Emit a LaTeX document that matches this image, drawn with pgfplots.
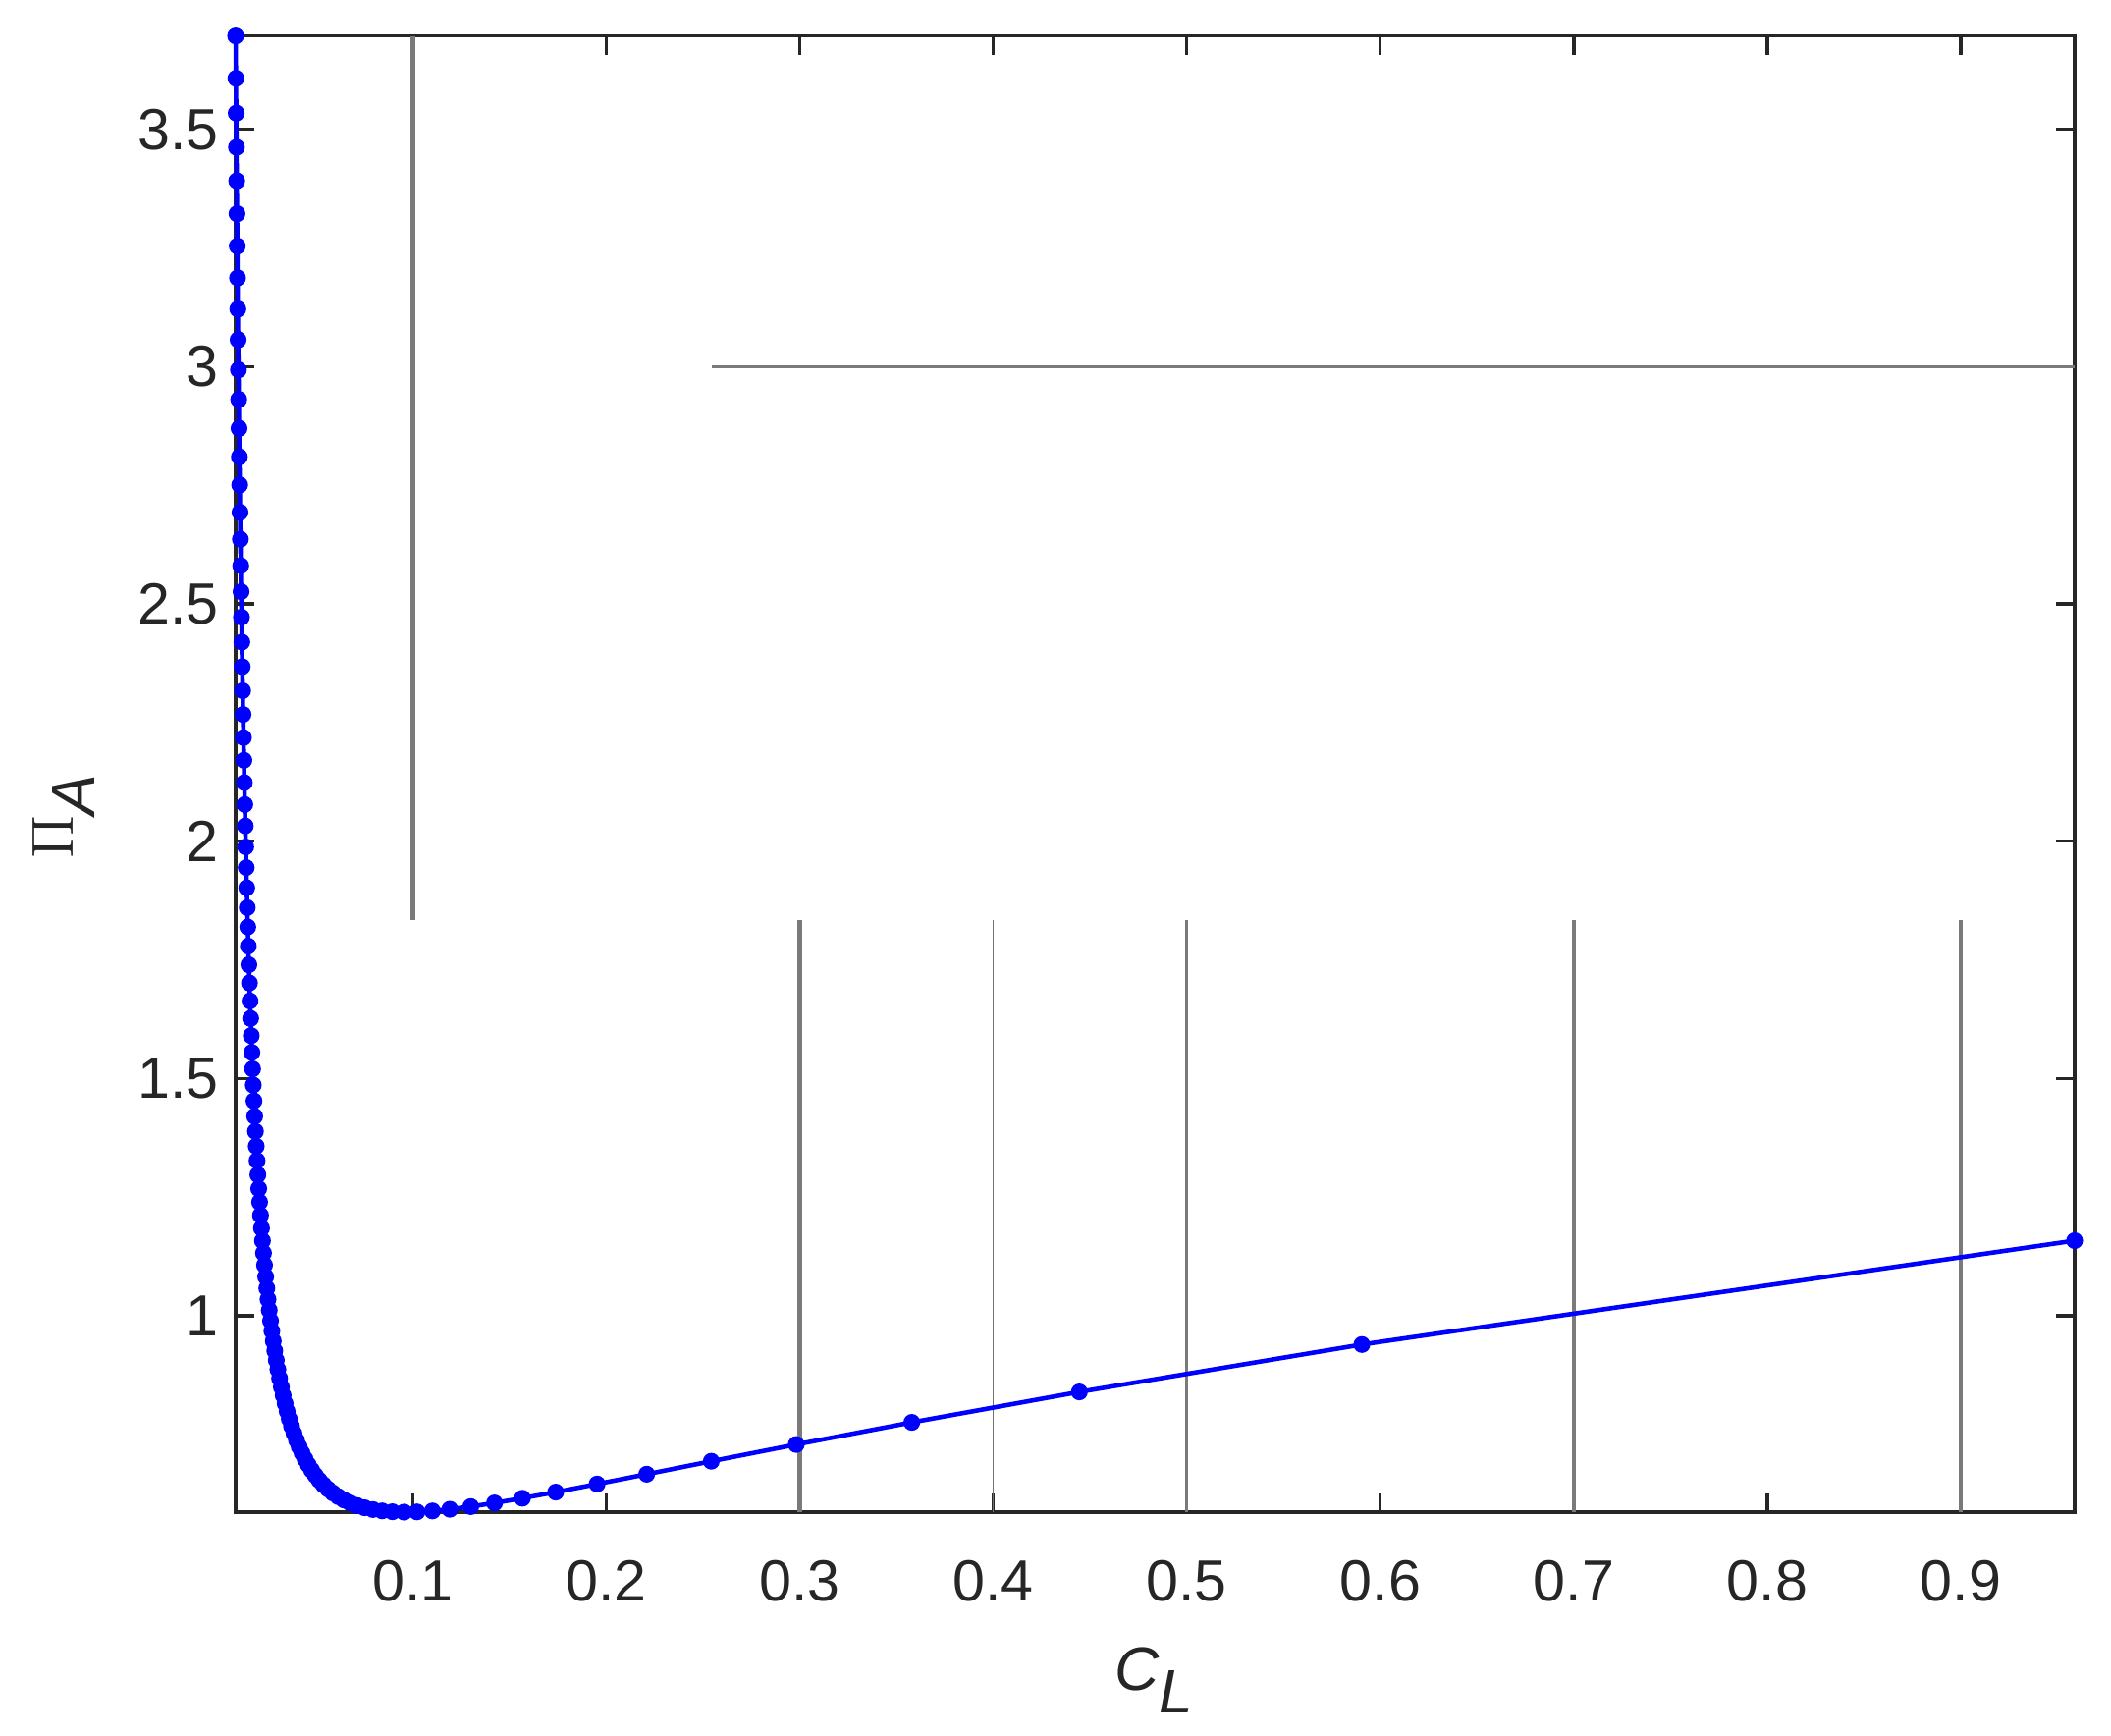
\documentclass[border=0pt]{standalone}
\usepackage{fontspec}
\setmainfont{Liberation Sans}
\usepackage{pgfplots}
\pgfplotsset{compat=1.18}
\definecolor{axgray}{HTML}{262626}
\definecolor{gridgray}{HTML}{7A7A7A}
\begin{document}
\begin{tikzpicture}
\path[use as bounding box] (-57.6pt,-54.72pt) rectangle (458.4pt,369.6pt);
\begin{axis}[
  at={(0pt,0pt)}, anchor=south west,
  scale only axis, width=449.5pt, height=360.8pt,
  xmin=0.0085, xmax=0.9588, ymin=0.5859, ymax=3.6967,
  xtick={0.1,0.2,0.3,0.4,0.5,0.6,0.7,0.8,0.9},
  ytick={1,1.5,2,2.5,3,3.5},
  tick pos=both, tick align=inside,
  major tick length=4.6pt,
  every tick/.style={axgray, line width=0.8pt},
  axis line style={draw=axgray, line width=0.8pt},
  /pgf/number format/assume math mode=true,
  tick label style={font=\fontsize{14.2}{17}\selectfont, text=axgray},
  xticklabel style={inner sep=0pt, yshift=-11.5pt},
  yticklabel style={inner sep=0pt, xshift=-4pt},
  label style={font=\fontsize{15}{18}\selectfont, text=axgray},
  xlabel={\textit{C}$_{\textit{L}}$},
  xlabel style={at={(axis description cs:0.5,0)}, anchor=north, inner sep=0pt, yshift=-33pt},
  ylabel={$\Pi_{\textit{A}}$},
  ylabel style={at={(axis description cs:-0.076,0.472)}, anchor=south, inner sep=0pt},
  clip=false,
]
% leftover grid pieces
\addplot[forget plot, gridgray, line width=1.15pt] coordinates {(0.1,1.834) (0.1,3.6967)};
\addplot[forget plot, gridgray, line width=0.75pt] coordinates {(0.2548,3) (0.9588,3)};
\addplot[forget plot, black!65, line width=0.3pt] coordinates {(0.2548,2) (0.9588,2)};
\addplot[forget plot, gridgray, line width=1.1pt] coordinates {(0.3,0.5859) (0.3,1.834)};
\addplot[forget plot, black!55, line width=0.3pt] coordinates {(0.4,0.5859) (0.4,1.834)};
\addplot[forget plot, gridgray, line width=0.65pt] coordinates {(0.5,0.5859) (0.5,1.834)};
\addplot[forget plot, gridgray, line width=0.8pt] coordinates {(0.7,0.5859) (0.7,1.834)};
\addplot[forget plot, gridgray, line width=1.1pt] coordinates {(0.9,0.5859) (0.9,1.834)};
% Pi_A against C_L
\addplot[blue, line width=1.1pt, mark=*, mark size=1.8pt, mark options={fill=blue, draw=blue, line width=0.5pt}] coordinates {
(0.9588,1.1580) (0.5905,0.9391) (0.4445,0.8392) (0.3579,0.7750) (0.2982,0.7284)
(0.2543,0.6931) (0.2209,0.6658) (0.1953,0.6451) (0.1739,0.6281) (0.1567,0.6152)
(0.1423,0.6052) (0.1300,0.5975) (0.1192,0.5919) (0.1102,0.5884) (0.1022,0.5864)
(0.0955,0.5859) (0.08953,0.5867) (0.08420,0.5885) (0.07943,0.5913) (0.07513,0.5951)
(0.07123,0.5998) (0.06768,0.6052) (0.06444,0.6115) (0.06147,0.6185) (0.05873,0.6262)
(0.05620,0.6346) (0.05386,0.6436) (0.05169,0.6532) (0.04966,0.6635) (0.04777,0.6744)
(0.04600,0.6858) (0.04435,0.6980) (0.04279,0.7105) (0.04132,0.7237) (0.03994,0.7375)
(0.03863,0.7519) (0.03740,0.7667) (0.03623,0.7821) (0.03512,0.7982) (0.03407,0.8147)
(0.03306,0.8318) (0.03211,0.8496) (0.03120,0.8678) (0.03033,0.8866) (0.02951,0.9060)
(0.02871,0.9259) (0.02795,0.9464) (0.02723,0.9675) (0.02653,0.9891) (0.02586,1.0115)
(0.02522,1.0343) (0.02461,1.0577) (0.02402,1.0818) (0.02344,1.1064) (0.02290,1.1318)
(0.02237,1.1577) (0.02186,1.1842) (0.02136,1.2114) (0.02089,1.2392) (0.02043,1.2676)
(0.01999,1.2968) (0.01956,1.3266) (0.01914,1.3570) (0.01874,1.3882) (0.01835,1.4200)
(0.01797,1.4525) (0.01761,1.4859) (0.01726,1.5198) (0.01691,1.5546) (0.01658,1.5900)
(0.01626,1.6262) (0.01594,1.6631) (0.01564,1.7009) (0.01534,1.7394) (0.01505,1.7787)
(0.01477,1.8189) (0.01450,1.8597) (0.01423,1.9016) (0.01397,1.9441) (0.01372,1.9877)
(0.01348,2.0319) (0.01324,2.0771) (0.01300,2.1232) (0.01278,2.1703) (0.01255,2.2181)
(0.01234,2.2669) (0.01213,2.3168) (0.01192,2.3675) (0.01172,2.4193) (0.01152,2.4719)
(0.01133,2.5256) (0.01115,2.5804) (0.01096,2.6361) (0.01078,2.6929) (0.01061,2.7507)
(0.01044,2.8096) (0.01027,2.8698) (0.01011,2.9308) (0.009949,2.9932) (0.009793,3.0566)
(0.009640,3.1212) (0.009490,3.1869) (0.009343,3.2539) (0.009200,3.3221) (0.009059,3.3915)
(0.008922,3.4621) (0.008787,3.5341) (0.008654,3.6074) (0.008500,3.6967)
};
\end{axis}
\end{tikzpicture}
\end{document}
